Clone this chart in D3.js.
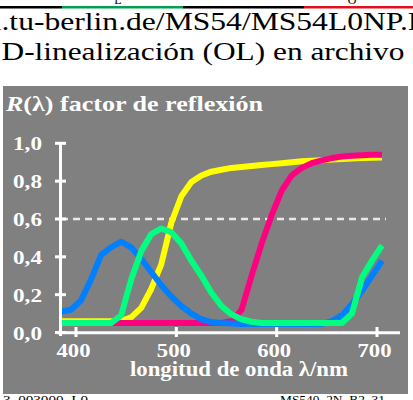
<!DOCTYPE html>
<html><head><meta charset="utf-8">
<script src="https://cdn.jsdelivr.net/npm/d3@7"></script>
<style>body{margin:0;background:#fff;}svg{display:block;}</style>
</head><body>
<svg id="c" width="413" height="400"></svg>
<script>
// wavelengths (nm)
const wavelengths = [385,395,405,415,425,435,445,455,465,475,485,495,505,515,525,535,545,555,565,575,585,595,605,615,625,635,645,655,665,675,685,695,705];
const blueValues    = [0.11,0.12,0.17,0.28,0.41,0.45,0.48,0.45,0.39,0.32,0.25,0.19,0.14,0.10,0.07,0.055,0.05,0.047,0.045,0.045,0.045,0.045,0.045,0.045,0.045,0.045,0.046,0.06,0.09,0.15,0.22,0.30,0.38];
const greenValues   = [0.05,0.05,0.05,0.05,0.05,0.05,0.09,0.28,0.43,0.52,0.55,0.53,0.47,0.38,0.30,0.21,0.14,0.095,0.07,0.057,0.05,0.05,0.05,0.05,0.05,0.05,0.05,0.05,0.05,0.10,0.29,0.38,0.46];
const yellowValues  = [0.06,0.06,0.06,0.06,0.06,0.06,0.06,0.08,0.13,0.23,0.36,0.58,0.72,0.795,0.83,0.85,0.86,0.87,0.875,0.88,0.885,0.89,0.895,0.90,0.905,0.908,0.911,0.914,0.917,0.92,0.922,0.924,0.925];
const magentaValues = [0.05,0.05,0.05,0.05,0.05,0.05,0.05,0.05,0.05,0.05,0.05,0.05,0.05,0.05,0.05,0.05,0.05,0.06,0.12,0.30,0.47,0.62,0.75,0.83,0.87,0.895,0.91,0.922,0.93,0.934,0.937,0.939,0.94];
const xTicks = [400,500,600,700];
const yTicks = [0,0.2,0.4,0.6,0.8,1.0];
const yTickLabels = ["0,0","0,2","0,4","0,6","0,8","1,0"];
const seriesNames = ["yellow","magenta","blue","green"];
const seriesColors = ["#ffff00","#ff0080","#0080ff","#00ff80"];

const svg = d3.select("#c");
const x = d3.scaleLinear().domain([400,700]).range([76,377]);
const y = d3.scaleLinear().domain([0,1]).range([332.5,143.3]);
const SERIF = "Liberation Serif";

// header line
const hdr = [[0,62,"#000"],[62,183,"#00a050"],[183,304,"#000"],[304,413,"#e01020"]];
hdr.forEach(h=>svg.append("line").attr("x1",h[0]).attr("x2",h[1]).attr("y1",7.3).attr("y2",7.3).attr("stroke",h[2]).attr("stroke-width",2.6));
svg.append("text").attr("x",118).attr("y",4).attr("font-family",SERIF).attr("font-size",12).attr("text-anchor","middle").text("L");
svg.append("text").attr("x",352).attr("y",4).attr("font-family",SERIF).attr("font-size",12).attr("text-anchor","middle").text("O");

const SX1 = 1.29, SX2 = 1.28;
const line1 = "farbe.li.tu-berlin.de/MS54/MS54L0NP.PDF";
const g1 = svg.append("g");
const t1 = g1.append("text").attr("x",0).attr("y",0).attr("font-family",SERIF).attr("font-size",24.5).text(line1);
const idx = line1.indexOf(".tu");
const pre = t1.node().getSubStringLength(0, idx);
g1.attr("transform", `translate(${1.5 - pre*SX1},29.5) scale(${SX1},1)`);
svg.append("g").attr("transform",`translate(1.5,59.5) scale(${SX2},1)`)
  .append("text").attr("x",0).attr("y",0).attr("font-family",SERIF).attr("font-size",24.5).text("D-linealización (OL) en archivo");

// panel
svg.append("rect").attr("x",3).attr("y",86).attr("width",405).attr("height",308).attr("fill","#808080");

// title
const title = svg.append("text").attr("x",6).attr("y",110.7).attr("font-family",SERIF).attr("font-weight","bold").attr("font-size",21).attr("fill","#fff")
  .attr("textLength",257).attr("lengthAdjust","spacingAndGlyphs");
title.append("tspan").attr("font-style","italic").text("R");
title.append("tspan").text("(λ) factor de reflexión");

// dashed line at 0.6
svg.append("line").attr("x1",61).attr("x2",386).attr("y1",y(0.6)).attr("y2",y(0.6)).attr("stroke","#e8e8e8").attr("stroke-width",2.6).attr("stroke-dasharray","7,5");

// curves
const lineGen = d3.line().x((d,i)=>x(wavelengths[i])).y(d=>y(d));
const all = {yellow:yellowValues, magenta:magentaValues, blue:blueValues, green:greenValues};
seriesNames.forEach((n,k)=>{
  svg.append("path").datum(all[n]).attr("d",lineGen).attr("fill","none").attr("stroke",seriesColors[k]).attr("stroke-width",6).attr("stroke-linejoin","round");
});

// axes
const axW = "#fff";
svg.append("line").attr("x1",60.5).attr("x2",60.5).attr("y1",142).attr("y2",336).attr("stroke",axW).attr("stroke-width",3);
svg.append("line").attr("x1",57).attr("x2",400).attr("y1",332.7).attr("y2",332.7).attr("stroke",axW).attr("stroke-width",3);
yTicks.forEach((v,i)=>{
  svg.append("line").attr("x1",55).attr("x2",66).attr("y1",y(v)).attr("y2",y(v)).attr("stroke",axW).attr("stroke-width",3);
  svg.append("text").attr("x",13).attr("y",y(v)+7).attr("font-family",SERIF).attr("font-weight","bold").attr("font-size",18.5).attr("fill","#fff")
    .attr("textLength",29).attr("lengthAdjust","spacingAndGlyphs").text(yTickLabels[i]);
});
xTicks.forEach(v=>{
  svg.append("line").attr("x1",x(v)).attr("x2",x(v)).attr("y1",327).attr("y2",337).attr("stroke",axW).attr("stroke-width",3);
  svg.append("text").attr("x",x(v)-2.5-17).attr("y",356.7).attr("font-family",SERIF).attr("font-weight","bold").attr("font-size",18.5).attr("fill","#fff")
    .attr("textLength",34).attr("lengthAdjust","spacingAndGlyphs").text(v);
});
svg.append("text").attr("x",130).attr("y",376).attr("font-family",SERIF).attr("font-weight","bold").attr("font-size",20).attr("fill","#fff")
  .attr("textLength",218).attr("lengthAdjust","spacingAndGlyphs").text("longitud de onda λ/nm");

// footer
svg.append("text").attr("x",3).attr("y",404).attr("font-family",SERIF).attr("font-size",13).attr("textLength",85).attr("lengthAdjust","spacingAndGlyphs").text("3–003000–L0");
svg.append("text").attr("x",280).attr("y",404).attr("font-family",SERIF).attr("font-size",13).attr("textLength",105).attr("lengthAdjust","spacingAndGlyphs").text("MS540–2N_B2_31");
</script>
</body></html>
